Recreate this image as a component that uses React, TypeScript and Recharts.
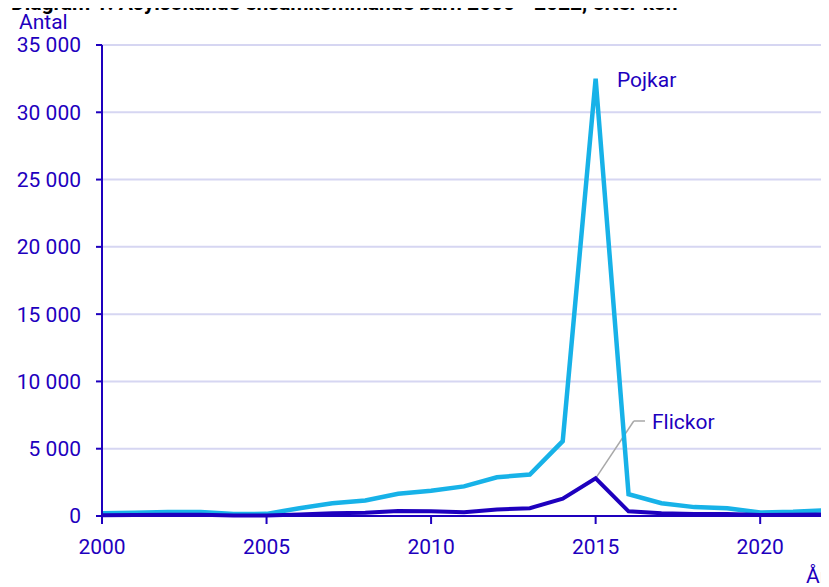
import React from "react";
import {
	CartesianGrid,
	Line,
	LineChart,
	ReferenceLine,
	XAxis,
	YAxis,
} from "recharts";

const years = [
	2000, 2001, 2002, 2003, 2004, 2005, 2006, 2007, 2008, 2009, 2010, 2011,
	2012, 2013, 2014, 2015, 2016, 2017, 2018, 2019, 2020, 2021, 2022,
];
const pojkar = [
	200, 250, 300, 300, 150, 160, 580, 950, 1150, 1650, 1870, 2200, 2880, 3080,
	5560, 32500, 1620, 950, 660, 580, 260, 310, 420,
];
const flickor = [
	60, 70, 90, 90, 40, 40, 120, 200, 240, 380, 360, 280, 480, 580, 1280, 2800,
	350, 200, 150, 150, 80, 90, 110,
];
const yTicks = [0, 5000, 10000, 15000, 20000, 25000, 30000, 35000];
const xTicks = [2000, 2005, 2010, 2015, 2020];

const data = years.map((year, i) => ({
	year,
	pojkar: pojkar[i],
	flickor: flickor[i],
}));

const DARK = "#1e00be";
const LIGHT = "#17b2e8";
const GRID = "#d6d6f2";
const FONT = "Roboto, sans-serif";

const fmt = (v: number) =>
	String(v).replace(/\B(?=(\d{3})+(?!\d))/g, " ");

export default function App() {
	return (
		<div
			style={{
				position: "relative",
				width: 829,
				height: 587,
				marginLeft: -8,
				marginTop: -8,
				overflow: "hidden",
				background: "#fff",
			}}
		>
			<LineChart
				width={829}
				height={587}
				data={data}
				margin={{ top: 45, right: 3, left: 0, bottom: 31 }}
			>
				<CartesianGrid
					vertical={false}
					stroke={GRID}
					strokeWidth={2}
				/>
				<ReferenceLine x={2022} stroke={GRID} strokeWidth={2} />
				<XAxis
					dataKey="year"
					type="number"
					domain={[2000, 2022]}
					ticks={xTicks}
					height={40}
					axisLine={{ stroke: DARK, strokeWidth: 2 }}
					tickLine={{ stroke: DARK, strokeWidth: 2 }}
					tickSize={8}
					tickMargin={15}
					tick={{ fill: DARK, fontSize: 21, fontFamily: FONT }}
				/>
				<YAxis
					width={102}
					domain={[0, 35000]}
					ticks={yTicks}
					tickFormatter={fmt}
					axisLine={{ stroke: DARK, strokeWidth: 2 }}
					tickLine={{ stroke: DARK, strokeWidth: 2 }}
					tickSize={6}
					tickMargin={15}
					tick={{ fill: DARK, fontSize: 21, fontFamily: FONT }}
				/>
				<ReferenceLine
					segment={[
						{ x: 2015, y: 2800 },
						{ x: 2016.16, y: 7060 },
					]}
					stroke="#a8a8a8"
					strokeWidth={1.5}
				/>
				<ReferenceLine
					segment={[
						{ x: 2016.16, y: 7060 },
						{ x: 2016.5, y: 7060 },
					]}
					stroke="#a8a8a8"
					strokeWidth={1.5}
				/>
				<Line
					dataKey="pojkar"
					stroke={LIGHT}
					strokeWidth={4.5}
					dot={false}
					isAnimationActive={false}
				/>
				<Line
					dataKey="flickor"
					stroke={DARK}
					strokeWidth={4}
					dot={false}
					isAnimationActive={false}
				/>
			</LineChart>
			<svg
				width={829}
				height={587}
				style={{ position: "absolute", left: 0, top: 0, pointerEvents: "none" }}
			>
				<text
					x={11}
					y={10}
					fontFamily={FONT}
					fontWeight="bold"
					fontSize={21}
					fill="#000"
				>
					Diagram 1. Asylsökande ensamkommande barn 2000 - 2022, efter kön
				</text>
				<text x={19} y={29} fontFamily={FONT} fontSize={21} fill={DARK}>
					Antal
				</text>
				<text x={617} y={87} fontFamily={FONT} fontSize={21} fill={DARK}>
					Pojkar
				</text>
				<text x={652} y={429} fontFamily={FONT} fontSize={21} fill={DARK}>
					Flickor
				</text>
				<text x={806} y={583} fontFamily={FONT} fontSize={21} fill={DARK}>
					År
				</text>
			</svg>
		</div>
	);
}
